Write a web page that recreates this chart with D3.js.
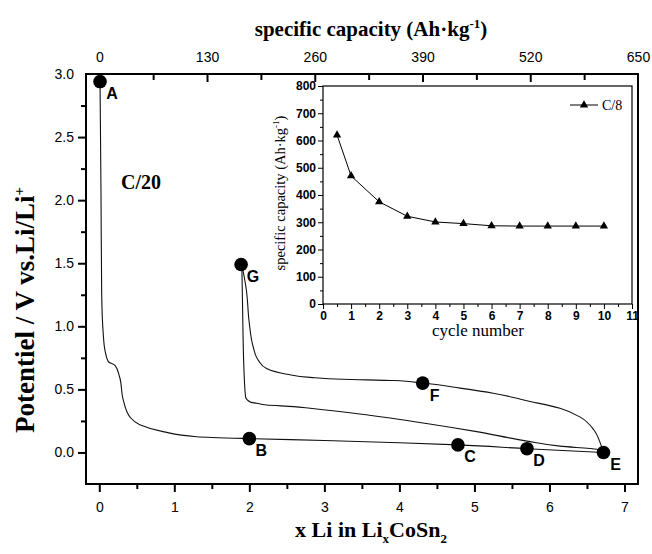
<!DOCTYPE html>
<html>
<head>
<meta charset="utf-8">
<script src="https://cdn.jsdelivr.net/npm/d3@7"></script>
<style>
  body { margin: 0; background: #fff; }
  svg { display: block; }
</style>
</head>
<body>
<div id="chart"></div>
<script>
"use strict";

// ---- main chart data (x Li, potential V) ----
var discharge1X = [0.01, 0.023, 0.032, 0.053, 0.076, 0.12, 0.21, 0.27, 0.32, 0.41, 0.54, 0.85, 1.3, 2.0, 3.0, 4.0, 4.78, 5.70, 6.72];
var discharge1Y = [2.94, 2.05, 1.26, 0.94, 0.81, 0.72, 0.69, 0.60, 0.415, 0.28, 0.22, 0.165, 0.125, 0.11, 0.095, 0.077, 0.06, 0.03, 0.0];

var chargeX = [6.72, 6.68, 6.59, 6.41, 6.14, 5.70, 5.25, 4.81, 4.31, 3.92, 3.25, 2.81, 2.50, 2.23, 2.12, 2.05, 2.0, 1.96, 1.90];
var chargeY = [0.0, 0.07, 0.18, 0.28, 0.35, 0.41, 0.47, 0.51, 0.55, 0.57, 0.58, 0.595, 0.62, 0.665, 0.73, 0.84, 1.02, 1.29, 1.49];

var discharge2X = [1.90, 1.91, 1.93, 1.95, 2.01, 2.10, 2.23, 2.59, 2.81, 3.47, 4.36, 5.03, 5.70, 6.14, 6.63, 6.72];
var discharge2Y = [1.49, 1.15, 0.63, 0.44, 0.40, 0.39, 0.376, 0.363, 0.35, 0.305, 0.23, 0.165, 0.09, 0.05, 0.025, 0.0];

var markerNames = ["A", "B", "C", "D", "E", "F", "G"];
var markerX = [0.01, 2.0, 4.78, 5.70, 6.72, 4.31, 1.89];
var markerY = [2.94, 0.11, 0.06, 0.03, 0.0, 0.55, 1.49];

var xTicks = [0, 1, 2, 3, 4, 5, 6, 7];
var yTicks = [0, 0.5, 1.0, 1.5, 2.0, 2.5, 3.0];
var capTicks = [0, 130, 260, 390, 520, 650];

// ---- inset data ----
var cycles = [0.5, 1, 2, 3, 4, 5, 6, 7, 8, 9, 10];
var capacity = [620, 470, 375, 322, 301, 295, 287, 286, 286, 286, 286];
var insetXTicks = [0, 1, 2, 3, 4, 5, 6, 7, 8, 9, 10, 11];
var insetYTicks = [0, 100, 200, 300, 400, 500, 600, 700, 800];

var SERIF = "'Liberation Serif', 'Times New Roman', serif";
var SANS = "'Liberation Sans', Arial, sans-serif";

var width = 652, height = 554;
var mLeft = 86, mRight = 638, mTop = 74, mBottom = 484;

var svg = d3.select("#chart").append("svg")
  .attr("width", width)
  .attr("height", height);

// scales
var x = d3.scaleLinear().domain([-0.177, 7.18]).range([mLeft, mRight]);
var y = d3.scaleLinear().domain([-0.25, 3.0]).range([mBottom, mTop]);
var xCap = d3.scaleLinear().domain([0, 650]).range([x(0), mRight]);

function minorBetween(ticks, step) {
  var out = [];
  for (var i = 0; i < ticks.length; i++) out.push(ticks[i] + step);
  return out;
}

// axes: d3 axes, with the domain lines replaced by one frame
var gLeft = svg.append("g").attr("transform", "translate(" + mLeft + ",0)");
gLeft.call(d3.axisLeft(y).tickValues(yTicks).tickFormat(d3.format(".1f")).tickSize(8).tickSizeOuter(0).tickPadding(4));
gLeft.append("g").call(d3.axisLeft(y).tickValues(minorBetween([-0.5].concat(yTicks), 0.25).filter(function(d) { return d > -0.25 && d < 3; })).tickSize(5).tickFormat(""));

var gBottom = svg.append("g").attr("transform", "translate(0," + mBottom + ")");
gBottom.call(d3.axisBottom(x).tickValues(xTicks).tickFormat(d3.format("d")).tickSize(8).tickSizeOuter(0).tickPadding(10));
gBottom.append("g").call(d3.axisBottom(x).tickValues(minorBetween(xTicks, 0.5).filter(function(d) { return d < 7.18; })).tickSize(5).tickFormat(""));

var gTop = svg.append("g").attr("transform", "translate(0," + mTop + ")");
gTop.call(d3.axisTop(xCap).tickValues(capTicks).tickSize(-8).tickSizeOuter(0).tickPadding(12));
gTop.append("g").call(d3.axisTop(xCap).tickValues(minorBetween(capTicks, 65).filter(function(d) { return d < 650; })).tickSize(-6).tickFormat(""));

[gLeft, gBottom, gTop].forEach(function(g) {
  g.selectAll(".domain").remove();
  g.selectAll(".tick line").attr("stroke", "#000").attr("stroke-width", 2);
  g.selectAll(".tick text").style("font-family", SANS).style("font-size", "14px").attr("fill", "#000");
});
gLeft.selectAll(".tick").filter(function(d) { return d === 3; }).select("line").remove();
gTop.selectAll(".tick").filter(function(d) { return d === 650; }).select("line").remove();

svg.append("rect")
  .attr("class", "frame")
  .attr("x", mLeft).attr("y", mTop)
  .attr("width", mRight - mLeft).attr("height", mBottom - mTop)
  .attr("fill", "none").attr("stroke", "#000").attr("stroke-width", 2);

// curves
var line = d3.line()
  .x(function(d) { return x(d[0]); })
  .y(function(d) { return y(d[1]); })
  .curve(d3.curveMonotoneY);

var curves = [
  d3.zip(discharge1X, discharge1Y),
  d3.zip(chargeX, chargeY),
  d3.zip(discharge2X, discharge2Y)
];
svg.selectAll("path.curve").data(curves).enter().append("path")
  .attr("class", "curve")
  .attr("d", line)
  .attr("fill", "none")
  .attr("stroke", "#111")
  .attr("stroke-width", 1.1);

// markers + letters
var markers = d3.zip(markerNames, markerX, markerY);
svg.selectAll("circle.mk").data(markers).enter().append("circle")
  .attr("class", "mk")
  .attr("cx", function(d) { return x(d[1]); })
  .attr("cy", function(d) { return y(d[2]); })
  .attr("r", 6.8)
  .attr("fill", "#000");
svg.selectAll("text.mk").data(markers).enter().append("text")
  .attr("class", "mk")
  .attr("x", function(d) { return x(d[1]) + 12; })
  .attr("y", function(d) { return y(d[2]) + 12; })
  .attr("text-anchor", "middle")
  .attr("dominant-baseline", "central")
  .style("font-family", SANS).style("font-weight", "bold").style("font-size", "16px")
  .text(function(d) { return d[0]; });

// C/20
svg.append("text")
  .attr("x", 141).attr("y", 189)
  .attr("text-anchor", "middle")
  .style("font-family", SERIF).style("font-weight", "bold").style("font-size", "20px")
  .text("C/20");

// axis titles
var title = svg.append("text")
  .attr("x", 371).attr("y", 36)
  .attr("text-anchor", "middle")
  .style("font-family", SERIF).style("font-weight", "bold").style("font-size", "21px");
title.append("tspan").text("specific capacity (Ah\u00b7kg");
title.append("tspan").attr("dy", -8).style("font-size", "13px").text("-1");
title.append("tspan").attr("dy", 8).text(")");

var xTitle = svg.append("text")
  .attr("x", 371).attr("y", 537)
  .attr("text-anchor", "middle")
  .style("font-family", SERIF).style("font-weight", "bold").style("font-size", "22px");
xTitle.append("tspan").text("x Li in Li");
xTitle.append("tspan").attr("dy", 6).style("font-size", "13px").text("x");
xTitle.append("tspan").attr("dy", -6).text("CoSn");
xTitle.append("tspan").attr("dy", 6).style("font-size", "13px").text("2");

var yTitle = svg.append("text")
  .attr("transform", "translate(34,310) rotate(-90)")
  .attr("text-anchor", "middle")
  .style("font-family", SERIF).style("font-weight", "bold").style("font-size", "27px");
yTitle.append("tspan").text("Potentiel / V vs.Li/Li");
yTitle.append("tspan").attr("dy", -10).style("font-size", "15px").text("+");

// ---- inset ----
var iLeft = 323, iRight = 632, iTop = 86, iBottom = 304;
var ix = d3.scaleLinear().domain([0, 11]).range([iLeft, iRight]);
var iy = d3.scaleLinear().domain([0, 800]).range([iBottom, iTop]);

svg.append("rect")
  .attr("class", "inset-frame")
  .attr("x", iLeft).attr("y", iTop)
  .attr("width", iRight - iLeft).attr("height", iBottom - iTop)
  .attr("fill", "#fff").attr("stroke", "#000").attr("stroke-width", 1.2);

var giL = svg.append("g").attr("transform", "translate(" + iLeft + ",0)");
giL.call(d3.axisLeft(iy).tickValues(insetYTicks).tickSize(5).tickSizeOuter(0).tickPadding(2));
giL.append("g").call(d3.axisLeft(iy).tickValues(minorBetween(insetYTicks, 50).filter(function(d) { return d < 800; })).tickSize(3).tickFormat(""));

var giB = svg.append("g").attr("transform", "translate(0," + iBottom + ")");
giB.call(d3.axisBottom(ix).tickValues(insetXTicks).tickSize(5).tickSizeOuter(0).tickPadding(2));
giB.append("g").call(d3.axisBottom(ix).tickValues(minorBetween(insetXTicks, 0.5).filter(function(d) { return d < 11; })).tickSize(3).tickFormat(""));

[giL, giB].forEach(function(g) {
  g.selectAll(".domain").remove();
  g.selectAll(".tick line").attr("stroke", "#000");
  g.selectAll(".tick text").style("font-family", SANS).style("font-weight", "bold")
    .style("font-size", "12px").attr("fill", "#000");
});

var iline = d3.line()
  .x(function(d) { return ix(d[0]); })
  .y(function(d) { return iy(d[1]); });
var capData = d3.zip(cycles, capacity);
svg.append("path")
  .datum(capData)
  .attr("d", iline)
  .attr("fill", "none").attr("stroke", "#000").attr("stroke-width", 1);

var tri = d3.symbol().type(d3.symbolTriangle).size(30);
svg.selectAll("path.tri").data(capData).enter().append("path")
  .attr("class", "tri")
  .attr("d", tri)
  .attr("transform", function(d) { return "translate(" + ix(d[0]) + "," + iy(d[1]) + ")"; })
  .attr("fill", "#000");

// inset legend
svg.append("line")
  .attr("x1", 570).attr("x2", 598).attr("y1", 105).attr("y2", 105)
  .attr("stroke", "#000");
svg.append("path").attr("d", tri).attr("transform", "translate(584,105)").attr("fill", "#000");
svg.append("text")
  .attr("x", 602).attr("y", 109.5)
  .style("font-family", SERIF).style("font-size", "14px")
  .text("C/8");

// inset titles
svg.append("text")
  .attr("x", 478).attr("y", 336)
  .attr("text-anchor", "middle")
  .style("font-family", SERIF).style("font-size", "17px")
  .text("cycle number");

var iyTitle = svg.append("text")
  .attr("transform", "translate(285,193) rotate(-90)")
  .attr("text-anchor", "middle")
  .style("font-family", SERIF).style("font-size", "14.5px");
iyTitle.append("tspan").text("specific capacity (Ah\u00b7kg");
iyTitle.append("tspan").attr("dy", -6).style("font-size", "9px").text("-1");
iyTitle.append("tspan").attr("dy", 6).text(")");
</script>
</body>
</html>
